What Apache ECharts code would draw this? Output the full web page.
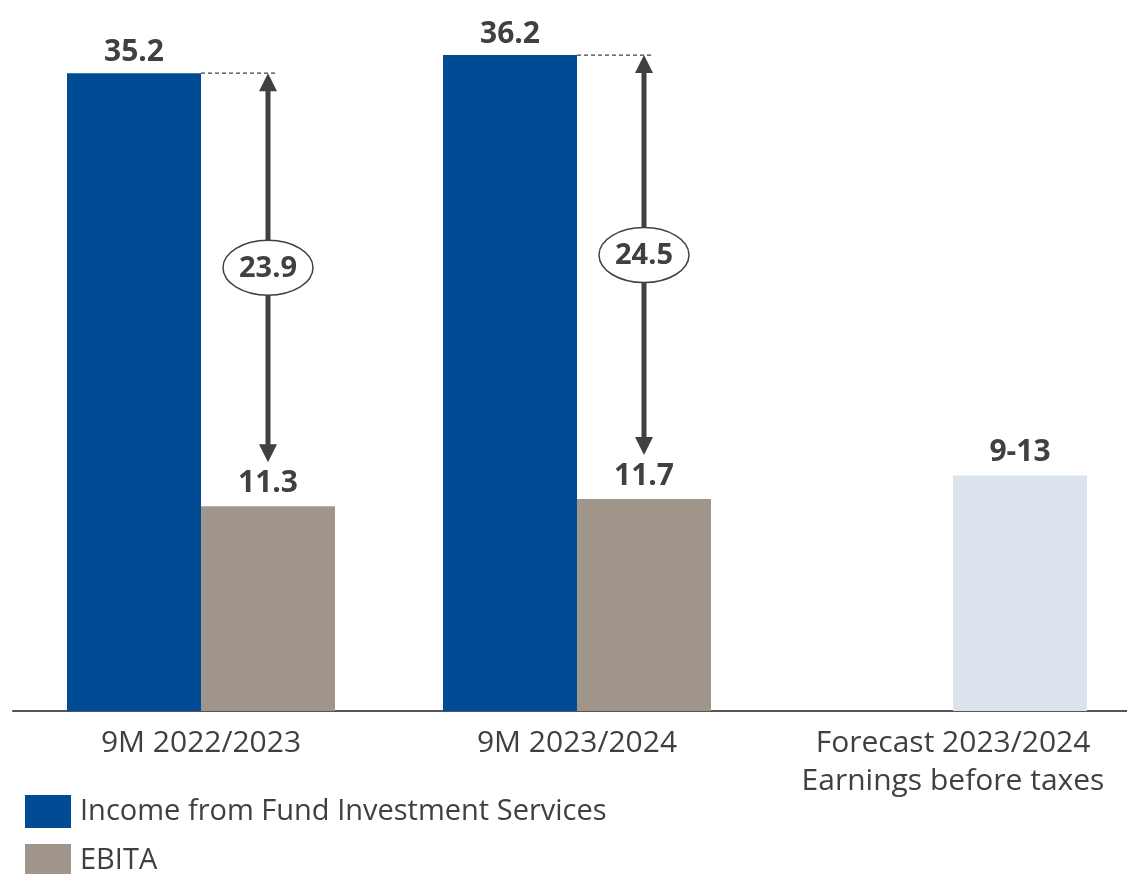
<!DOCTYPE html>
<html>
<head>
<meta charset="utf-8">
<script src="https://cdn.jsdelivr.net/npm/echarts@6/dist/echarts.min.js"></script>
<style>html,body{margin:0;padding:0;background:#fff}#c{width:1127px;height:874px}</style>
</head>
<body>
<div id="c"></div>
<script>
const categories = ['9M 2022/2023', '9M 2023/2024', 'Forecast 2023/2024\nEarnings before taxes'];
const incomeValues = [35.2, 36.2, null];
const ebitaValues = [11.3, 11.7, 13];
const ebitaLabels = ['11.3', '11.7', '9-13'];
const diffLabels = ['23.9', '24.5'];
const seriesNames = ['Income from Fund Investment Services', 'EBITA'];

const FONT = '"Open Sans", sans-serif';
const TXT = '#404040';
const BLUE = '#004b93';
const GRAY = '#a0958a';
const LIGHT = '#dde3ed';

const arrowData = diffLabels.map((d, i) => [i, incomeValues[i], ebitaValues[i], d]);

const legendCommon = {
  orient: 'vertical', left: 25, itemGap: 16, padding: 0,
  itemWidth: 46, itemHeight: 33, icon: 'rect',
  textStyle: { fontFamily: FONT, fontSize: 29, color: TXT, padding: [3, 0, 0, 4] }
};

const chart = echarts.init(document.getElementById('c'));
chart.setOption({
  animation: false,
  textStyle: { fontFamily: FONT },
  grid: { left: 13, width: 1128, top: 0, height: 711, containLabel: false, outerBoundsMode: 'none' },
  legend: [
    Object.assign({}, legendCommon, { top: 795, data: [seriesNames[0]] }),
    Object.assign({}, legendCommon, { top: 844, data: [seriesNames[1]] })
  ],
  xAxis: {
    type: 'category', data: categories,
    axisLine: { lineStyle: { color: '#555', width: 2 } },
    axisTick: { show: false },
    axisLabel: { fontFamily: FONT, fontSize: 30, color: TXT, lineHeight: 38, margin: 13, interval: 0 }
  },
  yAxis: { type: 'value', min: 0, max: 39.24, show: false, splitLine: { show: false } },
  series: [
    {
      name: seriesNames[0], type: 'bar', barWidth: 134, barGap: 0,
      itemStyle: { color: BLUE },
      data: incomeValues,
      label: { show: true, position: 'top', distance: 6, fontFamily: FONT, fontSize: 30, fontWeight: 'bold', color: TXT,
        formatter: p => p.value == null ? '' : p.value.toFixed(1) },
      z: 2
    },
    {
      name: seriesNames[1], type: 'bar', barWidth: 134,
      itemStyle: { color: GRAY },
      data: ebitaValues.map((v, i) => i === 2 ? { value: v, itemStyle: { color: LIGHT } } : v),
      label: { show: true, position: 'top', distance: 8, fontFamily: FONT, fontSize: 30, fontWeight: 'bold', color: TXT,
        formatter: p => ebitaLabels[p.dataIndex] },
      z: 2
    },
    {
      type: 'custom', z: 5, silent: true,
      data: arrowData,
      renderItem: function (params, api) {
        const c = api.value(0);
        const pTop = api.coord([c, api.value(1)]);
        const pBot = api.coord([c, api.value(2)]);
        const x = pTop[0] + 67;
        const yTop = pTop[1];
        const yBot = pBot[1] - 44;
        const hw = 9, hh = 18;
        const yMid = (yTop + yBot) / 2;
        const rx = 45, ry = 27.5;
        const label = arrowData[params.dataIndex][3];
        return {
          type: 'group',
          children: [
            { type: 'line', shape: { x1: pTop[0], y1: yTop, x2: x + 10, y2: yTop },
              style: { stroke: TXT, lineWidth: 1.2, lineDash: [4, 3] } },
            { type: 'line', shape: { x1: x, y1: yTop + hh - 2, x2: x, y2: yBot - hh + 2 },
              style: { stroke: TXT, lineWidth: 5 } },
            { type: 'polygon', shape: { points: [[x, yTop], [x - hw, yTop + hh], [x + hw, yTop + hh]] },
              style: { fill: TXT } },
            { type: 'polygon', shape: { points: [[x, yBot], [x - hw, yBot - hh], [x + hw, yBot - hh]] },
              style: { fill: TXT } },
            { type: 'path',
              shape: { pathData: `M ${x - rx} ${yMid} A ${rx} ${ry} 0 1 0 ${x + rx} ${yMid} A ${rx} ${ry} 0 1 0 ${x - rx} ${yMid} Z` },
              style: { fill: '#fff', stroke: TXT, lineWidth: 1.5 } },
            { type: 'text', x: x, y: yMid + 1,
              style: { text: label, fontFamily: FONT, fontSize: 29, fontWeight: 'bold', fill: TXT,
                align: 'center', verticalAlign: 'middle' } }
          ]
        };
      }
    }
  ]
});
</script>
</body>
</html>
